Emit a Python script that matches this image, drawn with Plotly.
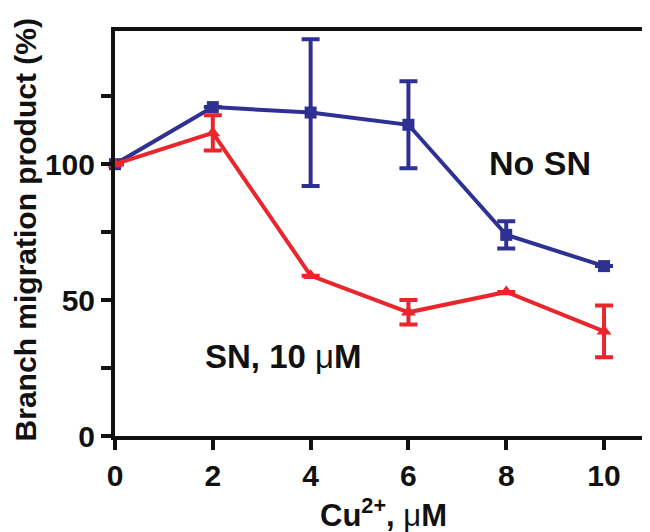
import plotly.graph_objects as go

conc = [0, 2, 4, 6, 8, 10]
no_sn = [100, 121, 119, 114.5, 74, 62.5]
no_sn_err = [0, 0, 27, 16, 5, 0]
sn10 = [100, 111.5, 59, 45.5, 53, 38.5]
sn10_err = [0, 6.5, 0, 4.5, 0, 9.5]

y_major = [0, 50, 100]
x_ticks = [0, 2, 4, 6, 8, 10]

BLUE = "#2e3192"
RED = "#e8262c"
FONT = "Liberation Sans"
INK = "#111111"

fig = go.Figure()
fig.add_trace(go.Scatter(
    x=conc, y=no_sn, mode="lines+markers", cliponaxis=False,
    line=dict(color=BLUE, width=4),
    marker=dict(symbol="square", size=12, color=BLUE),
    error_y=dict(type="data", array=no_sn_err, visible=True, color=BLUE,
                 thickness=4, width=9),
    showlegend=False,
))
fig.add_trace(go.Scatter(
    x=conc, y=sn10, mode="lines+markers", cliponaxis=False,
    line=dict(color=RED, width=4),
    marker=dict(symbol="triangle-up", size=13, color=RED),
    error_y=dict(type="data", array=sn10_err, visible=True, color=RED,
                 thickness=4, width=9),
    showlegend=False,
))

fig.add_annotation(x=8.7, y=100.4, text="No SN", showarrow=False,
                   font=dict(family=FONT, size=34, color=INK, weight="bold"))
fig.add_annotation(x=3.44, y=29.4,
                   text="SN, 10 <span style='font-weight:normal'>μ</span>M",
                   showarrow=False,
                   font=dict(family=FONT, size=33, color=INK, weight="bold"))

# axis titles as paper-positioned text
fig.add_annotation(xref="paper", yref="paper", x=0.5, y=-0.19,
                   xanchor="center", yanchor="middle", showarrow=False,
                   text="Cu<sup>2+</sup>, <span style='font-weight:normal'>μ</span>M",
                   font=dict(family=FONT, size=31, color=INK, weight="bold"))
fig.add_annotation(xref="paper", yref="paper", x=-0.168, y=0.51,
                   xanchor="center", yanchor="middle", showarrow=False,
                   textangle=-90, text="Branch migration product (%)",
                   font=dict(family=FONT, size=30, color=INK, weight="bold"))

fig.update_xaxes(
    range=[0, 10.96], tickvals=x_ticks, ticktext=[str(v) for v in x_ticks],
    automargin=False,
    showline=True, linecolor=INK, linewidth=4, mirror=True,
    ticks="outside", ticklen=10, tickwidth=4, tickcolor=INK,
    showgrid=False, zeroline=False,
    tickfont=dict(family=FONT, size=30, color=INK, weight="bold"),
)
fig.update_yaxes(
    range=[0, 149], tickvals=y_major, ticktext=[str(v) for v in y_major],
    automargin=False,
    showline=True, linecolor=INK, linewidth=4, mirror=True,
    ticks="outside", ticklen=10, tickwidth=4, tickcolor=INK,
    minor=dict(tickvals=[25, 75, 125], ticks="outside", ticklen=10,
               tickwidth=4, tickcolor=INK, showgrid=False),
    showgrid=False, zeroline=False,
    tickfont=dict(family=FONT, size=30, color=INK, weight="bold"),
)

fig.update_layout(
    width=650, height=532,
    margin=dict(l=107, r=7, t=23, b=104),
    plot_bgcolor="white", paper_bgcolor="white",
)

fig.write_html("out.html")
